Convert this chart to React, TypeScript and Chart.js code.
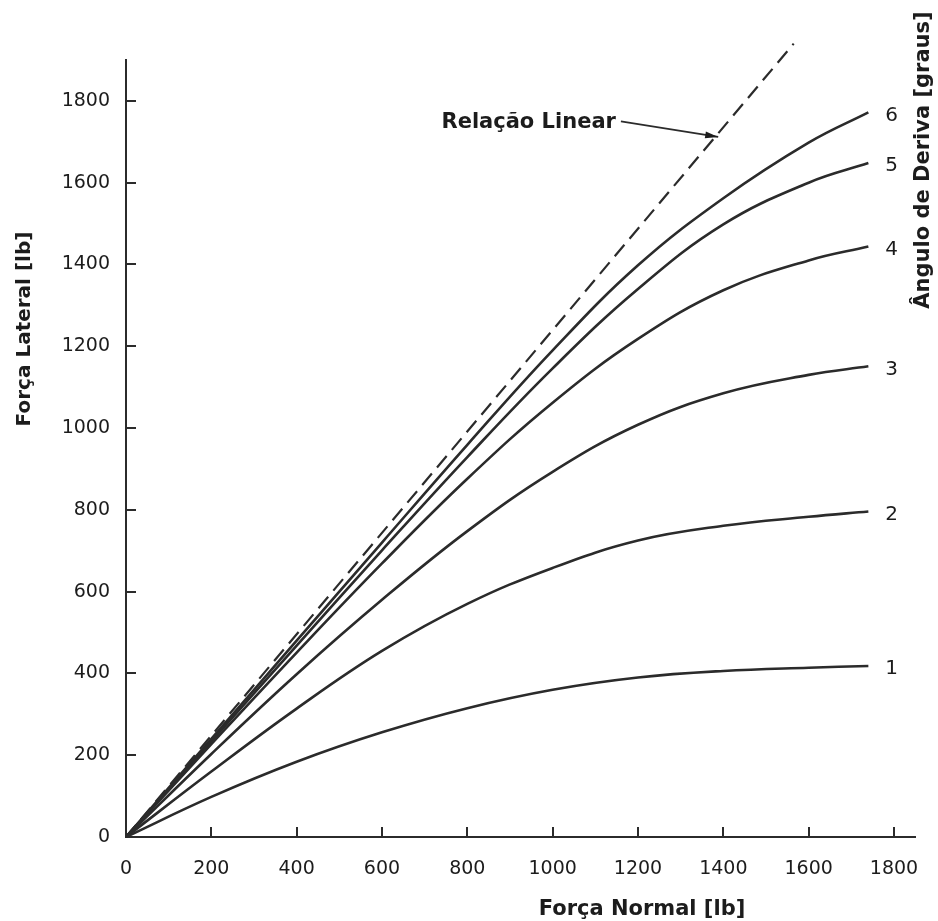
import React, { useEffect, useRef } from "react";
import { Chart, registerables } from "chart.js";

Chart.register(...registerables);

// ---- data ----
const forcaNormal = [0, 200, 400, 600, 800, 1000, 1200, 1400, 1600, 1740];
const angulo1 = [0, 98, 184, 256, 315, 360, 390, 406, 414, 418];
const angulo2 = [0, 160, 314, 455, 570, 658, 725, 761, 783, 796];
const angulo3 = [0, 203, 398, 580, 748, 893, 1008, 1085, 1130, 1151];
const angulo4 = [0, 227, 451, 669, 876, 1062, 1218, 1337, 1410, 1444];
const angulo5 = [0, 234, 468, 701, 929, 1146, 1340, 1498, 1600, 1648];
const angulo6 = [0, 240, 480, 720, 959, 1190, 1398, 1562, 1698, 1772];
const anguloLabels = ["1", "2", "3", "4", "5", "6"];
const linearX = [0, 1565];
const linearY = [0, 1940];
const xTicks = [0, 200, 400, 600, 800, 1000, 1200, 1400, 1600, 1800];
const yTicks = [0, 200, 400, 600, 800, 1000, 1200, 1400, 1600, 1800];

const xTitle = "Força Normal [lb]";
const yTitle = "Força Lateral [lb]";
const rightTitle = "Ângulo de Deriva [graus]";
const linearLabel = "Relação Linear";
// arrow: tail and tip in data coordinates
const arrowTail = { x: 1160, y: 1750 };
const arrowTip = { x: 1388, y: 1712 };

const INK = "#2b2b2b";
const TEXT = "#1c1c1c";
const FONT = "'DejaVu Sans', 'Liberation Sans', Arial, sans-serif";

export default function App() {
  const ref = useRef<HTMLCanvasElement | null>(null);

  useEffect(() => {
    document.body.style.margin = "0";
    const canvas = ref.current;
    if (!canvas) return;

    const series = [angulo1, angulo2, angulo3, angulo4, angulo5, angulo6];
    const datasets: any[] = series.map((s, i) => ({
      label: anguloLabels[i],
      data: forcaNormal.map((x, j) => ({ x, y: s[j] })),
      borderColor: INK,
      borderWidth: 2.6,
      pointRadius: 0,
      fill: false,
      tension: 0.4,
    }));
    datasets.push({
      label: linearLabel,
      data: linearX.map((x, i) => ({ x, y: linearY[i] })),
      borderColor: INK,
      borderWidth: 2.2,
      borderDash: [15, 8],
      pointRadius: 0,
      fill: false,
      clip: false,
    });

    const annot = {
      id: "annot",
      beforeDraw(chart: any) {
        const ctx = chart.ctx;
        ctx.save();
        ctx.fillStyle = "#ffffff";
        ctx.fillRect(0, 0, chart.width, chart.height);
        ctx.restore();
      },
      afterDraw(chart: any) {
        const ctx = chart.ctx;
        const xs = chart.scales.x;
        const ys = chart.scales.y;
        const area = chart.chartArea;
        ctx.save();
        // inward tick marks
        ctx.strokeStyle = INK;
        ctx.lineWidth = 2;
        xTicks.forEach((v) => {
          if (v === 0) return;
          const px = Math.round(xs.getPixelForValue(v));
          ctx.beginPath();
          ctx.moveTo(px, area.bottom);
          ctx.lineTo(px, area.bottom - 10);
          ctx.stroke();
        });
        yTicks.forEach((v) => {
          if (v === 0) return;
          const py = Math.round(ys.getPixelForValue(v));
          ctx.beginPath();
          ctx.moveTo(area.left, py);
          ctx.lineTo(area.left + 10, py);
          ctx.stroke();
        });

        // curve-end labels
        ctx.fillStyle = TEXT;
        ctx.font = `20px ${FONT}`;
        ctx.textAlign = "left";
        ctx.textBaseline = "middle";
        series.forEach((s, i) => {
          const meta = chart.getDatasetMeta(i);
          const pt = meta.data[meta.data.length - 1];
          ctx.fillText(anguloLabels[i], pt.x + 17, pt.y + 3);
        });

        // Relação Linear label + arrow
        const tx = xs.getPixelForValue(arrowTail.x);
        const ty = ys.getPixelForValue(arrowTail.y);
        const hx = xs.getPixelForValue(arrowTip.x);
        const hy = ys.getPixelForValue(arrowTip.y);
        ctx.font = `bold 21px ${FONT}`;
        ctx.textAlign = "right";
        ctx.textBaseline = "alphabetic";
        ctx.fillText(linearLabel, tx - 5, ty + 7);
        ctx.lineWidth = 1.6;
        ctx.beginPath();
        ctx.moveTo(tx, ty);
        ctx.lineTo(hx, hy);
        ctx.stroke();
        const ang = Math.atan2(hy - ty, hx - tx);
        const L = 13, W = 3.5;
        ctx.beginPath();
        ctx.moveTo(hx, hy);
        ctx.lineTo(hx - L * Math.cos(ang) + W * Math.sin(ang), hy - L * Math.sin(ang) - W * Math.cos(ang));
        ctx.lineTo(hx - L * Math.cos(ang) - W * Math.sin(ang), hy - L * Math.sin(ang) + W * Math.cos(ang));
        ctx.closePath();
        ctx.fill();

        // axis titles
        ctx.fillStyle = TEXT;
        ctx.font = `bold 21px ${FONT}`;
        ctx.textAlign = "center";
        ctx.textBaseline = "alphabetic";
        ctx.fillText(xTitle, 642, 915);

        ctx.save();
        ctx.translate(25, 329);
        ctx.rotate(-Math.PI / 2);
        ctx.font = `bold 20px ${FONT}`;
        ctx.textBaseline = "middle";
        ctx.fillText(yTitle, 0, 0);
        ctx.restore();

        ctx.save();
        ctx.translate(924, 160);
        ctx.rotate(-Math.PI / 2);
        ctx.font = `bold 21px ${FONT}`;
        ctx.textBaseline = "middle";
        ctx.fillText(rightTitle, 0, 0);
        ctx.restore();

        ctx.restore();
      },
    };

    const chart = new Chart(canvas, {
      type: "line",
      data: { datasets },
      options: {
        animation: false,
        responsive: false,
        devicePixelRatio: 1,
        events: [],
        layout: { padding: { top: 60, right: 22.7, left: 0, bottom: 0 } },
        plugins: {
          legend: { display: false },
          tooltip: { enabled: false },
          title: { display: false },
        },
        scales: {
          x: {
            type: "linear",
            min: 0,
            max: 1850,
            afterBuildTicks: (s: any) => {
              s.ticks = xTicks.map((v) => ({ value: v }));
            },
            afterFit: (s: any) => {
              s.height = 84;
              s.paddingLeft = 0;
              s.paddingRight = 0;
            },
            grid: { display: false, drawTicks: false },
            border: { display: true, color: INK, width: 2 },
            ticks: {
              padding: 21,
              color: TEXT,
              font: { family: FONT, size: 19 },
              maxRotation: 0,
              autoSkip: false,
              callback: (v: any) => String(v),
            },
          },
          y: {
            type: "linear",
            min: 0,
            max: 1900,
            afterBuildTicks: (s: any) => {
              s.ticks = yTicks.map((v) => ({ value: v }));
            },
            afterFit: (s: any) => {
              s.width = 126;
              s.paddingTop = 0;
              s.paddingBottom = 0;
            },
            grid: { display: false, drawTicks: false },
            border: { display: true, color: INK, width: 2 },
            ticks: {
              padding: 16,
              color: TEXT,
              font: { family: FONT, size: 19 },
              autoSkip: false,
              callback: (v: any) => String(v),
            },
          },
        },
      },
      plugins: [annot],
    } as any);

    return () => chart.destroy();
  }, []);

  return (
    <div style={{ position: "absolute", left: 0, top: 0, width: 938, height: 921 }}>
      <canvas ref={ref} width={938} height={921} style={{ display: "block", width: 938, height: 921 }} />
    </div>
  );
}
